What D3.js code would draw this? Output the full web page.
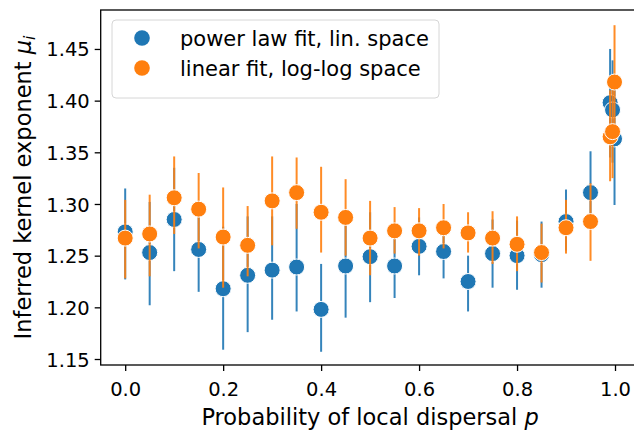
<!DOCTYPE html>
<html>
<head>
<meta charset="utf-8">
<script src="https://cdn.jsdelivr.net/npm/d3@7"></script>
<style>
  html, body { margin: 0; padding: 0; background: #fff; }
  svg { display: block; font-family: "DejaVu Sans", sans-serif; }
</style>
</head>
<body>
<svg id="chart" width="634" height="431"></svg>
<script>
// ---- data ----
const pValues = [0, 0.05, 0.1, 0.15, 0.2, 0.25, 0.3, 0.35, 0.4, 0.45, 0.5, 0.55, 0.6, 0.65, 0.7, 0.75, 0.8, 0.85, 0.9, 0.95, 0.99, 0.995, 0.999];

const powerMean = [1.273, 1.253, 1.285, 1.256, 1.218, 1.231, 1.236, 1.239, 1.198, 1.240, 1.249, 1.240, 1.259, 1.254, 1.225, 1.252, 1.250, 1.251, 1.283, 1.311, 1.398, 1.391, 1.363];
const powerLo   = [1.227, 1.202, 1.235, 1.215, 1.159, 1.176, 1.188, 1.196, 1.157, 1.190, 1.205, 1.209, 1.231, 1.228, 1.196, 1.219, 1.217, 1.219, 1.255, 1.275, 1.345, 1.340, 1.299];
const powerHi   = [1.315, 1.302, 1.335, 1.298, 1.278, 1.288, 1.288, 1.300, 1.242, 1.290, 1.292, 1.272, 1.287, 1.280, 1.250, 1.285, 1.284, 1.283, 1.314, 1.351, 1.450, 1.439, 1.420];

const linMean = [1.267, 1.271, 1.306, 1.295, 1.268, 1.260, 1.303, 1.311, 1.292, 1.287, 1.267, 1.274, 1.274, 1.277, 1.272, 1.267, 1.261, 1.253, 1.277, 1.283, 1.365, 1.370, 1.418];
const linLo   = [1.228, 1.230, 1.271, 1.257, 1.219, 1.230, 1.260, 1.276, 1.253, 1.250, 1.231, 1.252, 1.250, 1.257, 1.253, 1.242, 1.235, 1.224, 1.252, 1.245, 1.322, 1.325, 1.365];
const linHi   = [1.304, 1.309, 1.346, 1.330, 1.316, 1.298, 1.346, 1.345, 1.336, 1.324, 1.303, 1.297, 1.296, 1.300, 1.292, 1.293, 1.288, 1.281, 1.304, 1.320, 1.410, 1.420, 1.473];

const xTicks = [0, 0.2, 0.4, 0.6, 0.8, 1.0];
const yTicks = [1.15, 1.20, 1.25, 1.30, 1.35, 1.40, 1.45];
const seriesNames = ["power law fit, lin. space", "linear fit, log-log space"];
const colors = ["#1f77b4", "#ff7f0e"];

// ---- layout ----
const mLeft = 100.7, mRight = 639.5, mTop = 10, mBottom = 365;
const svg = d3.select("#chart");

const x = d3.scaleLinear().domain([-0.05, 1.05]).range([mLeft, mRight]);
const y = d3.scaleLinear().domain([1.1442, 1.4877]).range([mBottom, mTop]);

const series = [
  { name: seriesNames[0], color: colors[0], mean: powerMean, lo: powerLo, hi: powerHi },
  { name: seriesNames[1], color: colors[1], mean: linMean, lo: linLo, hi: linHi }
];

// axes
const xAxis = d3.axisBottom(x).tickValues(xTicks).tickFormat(d3.format(".1f")).tickSize(6).tickPadding(5);
const yAxis = d3.axisLeft(y).tickValues(yTicks).tickFormat(d3.format(".2f")).tickSize(6).tickPadding(5);

const gx = svg.append("g").attr("transform", `translate(0,${mBottom})`).call(xAxis);
const gy = svg.append("g").attr("transform", `translate(${mLeft},0)`).call(yAxis);
[gx, gy].forEach(g => {
  g.select(".domain").remove();
  g.selectAll(".tick line").attr("stroke", "#000").attr("stroke-width", 1.3);
  g.selectAll(".tick text").attr("fill", "#000").style("font-size", "19.5px").style("font-family", "DejaVu Sans");
});
gx.selectAll(".tick text").attr("dy", null).attr("y", 31);
gy.selectAll(".tick text").attr("dy", "0.36em");

// data
const plot = svg.append("g");
series.forEach(s => {
  const g = plot.append("g");
  g.selectAll("line.err").data(pValues).enter().append("line")
    .attr("class", "err")
    .attr("x1", d => x(d)).attr("x2", d => x(d))
    .attr("y1", (d, i) => y(s.lo[i])).attr("y2", (d, i) => y(s.hi[i]))
    .attr("stroke", s.color).attr("stroke-width", 2).attr("stroke-opacity", 0.9);
  g.selectAll("circle").data(pValues).enter().append("circle")
    .attr("cx", d => x(d)).attr("cy", (d, i) => y(s.mean[i]))
    .attr("r", 8).attr("fill", s.color).attr("stroke", "#fff").attr("stroke-width", 1);
});

// frame
svg.append("rect").attr("x", mLeft).attr("y", mTop).attr("width", mRight - mLeft).attr("height", mBottom - mTop)
  .attr("fill", "none").attr("stroke", "#000").attr("stroke-width", 1.3);

// legend
const lg = svg.append("g");
lg.append("rect").attr("x", 112).attr("y", 20).attr("width", 327).attr("height", 78).attr("rx", 4)
  .attr("fill", "#fff").attr("fill-opacity", 0.8).attr("stroke", "#d6d6d6").attr("stroke-width", 1);
series.forEach((s, i) => {
  const cy = 38 + i * 30;
  lg.append("circle").attr("cx", 142).attr("cy", cy).attr("r", 7.8).attr("fill", s.color);
  lg.append("text").attr("x", 180).attr("y", cy).attr("dy", "0.36em")
    .style("font-size", "21px").attr("fill", "#000").text(s.name);
});

// axis labels
const xl = svg.append("text").attr("x", (mLeft + mRight) / 2).attr("y", 425).attr("text-anchor", "middle")
  .style("font-size", "22.5px").attr("fill", "#000");
xl.append("tspan").text("Probability of local dispersal ");
xl.append("tspan").style("font-style", "italic").text("p");

const yl = svg.append("text").attr("transform", `translate(31,${(mTop + mBottom) / 2}) rotate(-90)`)
  .attr("text-anchor", "middle").style("font-size", "22.5px").attr("fill", "#000");
yl.append("tspan").text("Inferred kernel exponent ");
yl.append("tspan").style("font-style", "italic").text("μ");
yl.append("tspan").style("font-style", "italic").style("font-size", "15.5px").attr("dy", 4).text("i");
</script>
</body>
</html>
